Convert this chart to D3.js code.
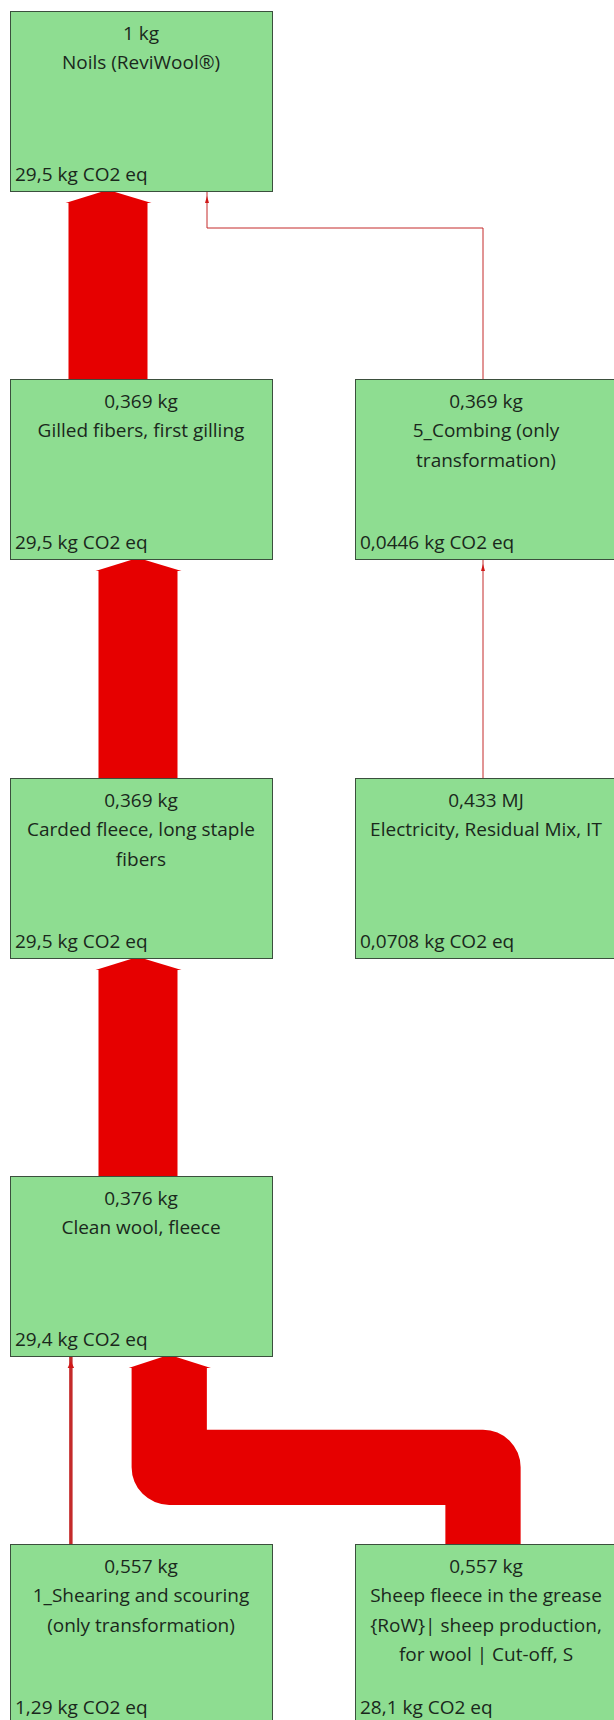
<!DOCTYPE html>
<html>
<head>
<meta charset="utf-8">
<script src="https://cdn.jsdelivr.net/npm/d3@7"></script>
<style>
  body { margin: 0; background: #fff; }
  svg { display: block; }
</style>
</head>
<body>
<div id="tree"></div>
<script>
// nodes of the process tree
const nodeNames = [
  "Noils (ReviWool®)",
  "Gilled fibers, first gilling",
  "5_Combing (only transformation)",
  "Carded fleece, long staple fibers",
  "Electricity, Residual Mix, IT",
  "Clean wool, fleece",
  "1_Shearing and scouring (only transformation)",
  "Sheep fleece in the grease {RoW}| sheep production, for wool | Cut-off, S"
];
const nodeAmounts = [1, 0.369, 0.369, 0.369, 0.433, 0.376, 0.557, 0.557];
const nodeUnits = ["kg", "kg", "kg", "kg", "MJ", "kg", "kg", "kg"];
const nodeCO2 = [29.5, 29.5, 0.0446, 29.5, 0.0708, 29.4, 1.29, 28.1];
const nodeRow = [0, 1, 1, 2, 2, 3, 4, 4];
const nodeCol = [0, 0, 1, 0, 1, 0, 0, 1];

// flows (source -> target), value in kg CO2 eq
const linkSource = [1, 2, 3, 4, 5, 6, 7];
const linkTarget = [0, 0, 1, 2, 3, 5, 5];
const linkValue = [29.5, 0.0446, 29.5, 0.0708, 29.5, 1.29, 28.1];

// set the dimensions of the picture
const width = 614, height = 1720;
const boxW = 262, boxH = 180;
const gap = 59;
const red = "#e60000";
const font = "'Open Sans', sans-serif";

const svg = d3.select("#tree")
  .append("svg")
    .attr("width", width)
    .attr("height", height);

const locale = d3.formatLocale({decimal: ",", thousands: ".", grouping: [3], currency: ["", "€"]});
const fmt = locale.format(".3~g");

const rowY = d3.scaleOrdinal().domain([0, 1, 2, 3, 4]).range([11, 379, 778, 1176, 1544]);
const colX = d3.scaleOrdinal().domain([0, 1]).range([10, 355]);
const w = d3.scaleLinear().domain([0, d3.max(linkValue)]).range([0, 79]);

const nodes = nodeNames.map((name, i) => ({
  name: name,
  amount: fmt(nodeAmounts[i]) + " " + nodeUnits[i],
  co2: fmt(nodeCO2[i]) + " kg CO2 eq",
  x: colX(nodeCol[i]),
  y: rowY(nodeRow[i]),
  col: nodeCol[i]
}));

const links = linkSource.map((s, i) => ({
  source: nodes[s],
  target: nodes[linkTarget[i]],
  width: Math.max(1, w(linkValue[i]))
}));

// place the incoming flows side by side under each target box
nodes.forEach(n => {
  const ins = links.filter(l => l.target === n).sort((a, b) => a.source.col - b.source.col);
  if (!ins.length) return;
  const total = d3.sum(ins, l => l.width) + gap * (ins.length - 1);
  let start = n.x + boxW / 2 - 3 - total / 2;
  ins.forEach(l => {
    l.xT = start + l.width / 2;
    start += l.width + gap;
  });
});
links.forEach(l => {
  l.xS = l.source.col === l.target.col ? l.xT : l.source.x + boxW / 2 - 3;
  l.yT = l.target.y + boxH;
  l.yS = l.source.y;
});

// flows
const flow = svg.append("g");
links.forEach(l => {
  const thick = l.width > 10;
  const headH = thick ? 12 : 0;
  const pts = [[l.xS, l.yS]];
  if (l.xS !== l.xT) {
    const bend = l.yT + 36 + l.width;
    pts.push([l.xS, bend], [l.xT, bend]);
  }
  pts.push([l.xT, l.yT + headH]);

  flow.append("path")
    .attr("d", d3.line()(pts))
    .attr("fill", "none")
    .attr("stroke", thick ? red : "#c42a2a")
    .attr("stroke-width", l.width)
    .attr("stroke-linejoin", "round");

  const hw = l.width / 2;
  const head = thick
    ? [[l.xT - hw - 3, l.yT + headH], [l.xT - 7, l.yT + 1], [l.xT + 7, l.yT + 1], [l.xT + hw + 4, l.yT + headH]]
    : [[l.xT - hw - 1.5, l.yT + 12], [l.xT, l.yT + 5], [l.xT + hw + 1.5, l.yT + 12]];
  flow.append("polygon")
    .attr("points", head.map(p => p.join(",")).join(" "))
    .attr("fill", thick ? red : "#d01818");
});

// boxes
const box = svg.selectAll(".box")
  .data(nodes)
  .join("g")
    .attr("class", "box")
    .attr("transform", d => `translate(${d.x},${d.y})`);

box.append("rect")
  .attr("x", 0.5)
  .attr("y", 0.5)
  .attr("width", boxW)
  .attr("height", boxH)
  .attr("fill", "#8edd91")
  .attr("stroke", "#3b4f3d")
  .attr("stroke-width", 1);

const label = box.append("text")
  .attr("text-anchor", "middle")
  .attr("font-family", font)
  .attr("font-size", "19px")
  .attr("fill", "#1a281c");

// wrap the names to the box width
label.each(function(d) {
  const t = d3.select(this);
  const lines = [d.amount];
  let cur = "";
  const probe = t.append("tspan");
  d.name.split(" ").forEach(word => {
    const test = cur ? cur + " " + word : word;
    probe.text(test);
    if (probe.node().getComputedTextLength() > 248 && cur) {
      lines.push(cur);
      cur = word;
    } else {
      cur = test;
    }
  });
  lines.push(cur);
  probe.remove();
  lines.forEach((line, i) => {
    t.append("tspan")
      .attr("x", boxW / 2)
      .attr("y", 29 + i * 29.3)
      .text(line);
  });
});

box.append("text")
  .attr("x", 5)
  .attr("y", 170)
  .attr("font-family", font)
  .attr("font-size", "19px")
  .attr("fill", "#1a281c")
  .text(d => d.co2);
</script>
</body>
</html>
